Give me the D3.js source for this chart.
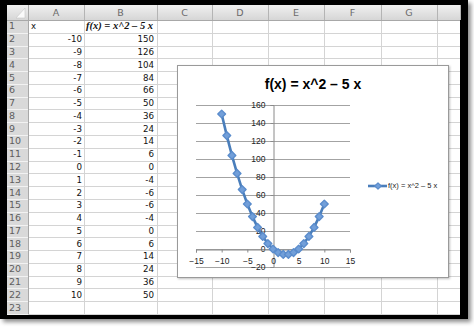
<!DOCTYPE html>
<html>
<head>
<meta charset="utf-8">
<script src="https://cdn.jsdelivr.net/npm/d3@7"></script>
<style>
  html, body { margin: 0; padding: 0; background: #fff; }
  svg { display: block; }
</style>
</head>
<body>
<svg id="sheet" width="474" height="329"></svg>
<script>
// ---- data ----
const xValues = [-10, -9, -8, -7, -6, -5, -4, -3, -2, -1, 0, 1, 2, 3, 4, 5, 6, 7, 8, 9, 10];
const yValues = [150, 126, 104, 84, 66, 50, 36, 24, 14, 6, 0, -4, -6, -6, -4, 0, 6, 14, 24, 36, 50];
const columnLetters = ["A", "B", "C", "D", "E", "F", "G", ""];
const rowNumbers = d3.range(1, 24);
const xHeader = "x";
const fHeader = "f(x) = x^2 \u2013 5 x";
const chartTitle = "f(x) = x^2 \u2013 5 x";
const seriesName = "f(x) = x^2 \u2013 5 x";
const xTicks = [-15, -10, -5, 0, 5, 10, 15];
const yTicks = [-20, 0, 20, 40, 60, 80, 100, 120, 140, 160];

// ---- layout ----
const svg = d3.select("#sheet");
const frame = { x: 0, y: 0, w: 468, h: 319 };
const inner = { x: 7, y: 5, r: 460, b: 314 };
const colEdges = [28, 84, 157, 212, 268, 324, 381, 437, 460];
const rowHeaderX = 7;
const headerTop = 5, headerBottom = 20;
const rowH = (inner.b - headerBottom) / rowNumbers.length;
const rowTop = i => headerBottom + i * rowH;

const defs = svg.append("defs");
const sh = defs.append("filter").attr("id", "shadow")
  .attr("x", "-5%").attr("y", "-5%").attr("width", "115%").attr("height", "115%");
sh.append("feDropShadow").attr("dx", 3).attr("dy", 3).attr("stdDeviation", 2.2)
  .attr("flood-color", "#000").attr("flood-opacity", 0.45);
const hdrGrad = defs.append("linearGradient").attr("id", "hdr").attr("x1", 0).attr("y1", 0).attr("x2", 0).attr("y2", 1);
hdrGrad.append("stop").attr("offset", "0%").attr("stop-color", "#f0f0f0");
hdrGrad.append("stop").attr("offset", "100%").attr("stop-color", "#d6d6d6");
const chartSh = defs.append("filter").attr("id", "chartShadow");
chartSh.append("feDropShadow").attr("dx", 1).attr("dy", 1).attr("stdDeviation", 0.8)
  .attr("flood-color", "#000").attr("flood-opacity", 0.25);

// black window frame with drop shadow
svg.append("rect").attr("x", frame.x).attr("y", frame.y).attr("width", frame.w).attr("height", frame.h)
  .attr("fill", "#050505").attr("filter", "url(#shadow)");
svg.append("rect").attr("x", inner.x).attr("y", inner.y)
  .attr("width", inner.r - inner.x).attr("height", inner.b - inner.y).attr("fill", "#fff");

// cell gridlines
const grid = svg.append("g").attr("stroke", "#d4d4d4").attr("stroke-width", 1);
rowNumbers.forEach((r, i) => {
  grid.append("line").attr("x1", colEdges[0]).attr("x2", inner.r)
    .attr("y1", Math.round(rowTop(i + 1)) + 0.5).attr("y2", Math.round(rowTop(i + 1)) + 0.5);
});
colEdges.slice(1, -1).forEach(cx => {
  grid.append("line").attr("x1", cx + 0.5).attr("x2", cx + 0.5).attr("y1", headerBottom).attr("y2", inner.b);
});

// column header strip
svg.append("rect").attr("x", inner.x).attr("y", headerTop).attr("width", inner.r - inner.x)
  .attr("height", headerBottom - headerTop).attr("fill", "url(#hdr)");
svg.append("line").attr("x1", inner.x).attr("x2", inner.r).attr("y1", headerBottom + 0.5).attr("y2", headerBottom + 0.5)
  .attr("stroke", "#a8a8a8");
columnLetters.forEach((c, i) => {
  const x0 = colEdges[i], x1 = colEdges[i + 1];
  svg.append("line").attr("x1", x1 + 0.5).attr("x2", x1 + 0.5).attr("y1", headerTop).attr("y2", headerBottom)
    .attr("stroke", "#b4b4b4");
  svg.append("text").attr("x", (x0 + x1) / 2).attr("y", (headerTop + headerBottom) / 2 + 0.5)
    .attr("text-anchor", "middle").attr("dominant-baseline", "middle")
    .attr("font-family", "DejaVu Sans, Verdana, sans-serif").attr("font-size", 9.5)
    .attr("fill", "#6a6a6a").text(c);
});
// select-all corner
svg.append("path").attr("d", `M${colEdges[0] - 3},${headerTop + 3} L${colEdges[0] - 3},${headerBottom - 2} L${colEdges[0] - 12},${headerBottom - 2} Z`)
  .attr("fill", "#fafafa").attr("stroke", "#c8c8c8").attr("stroke-width", 0.6);

// row header column
svg.append("rect").attr("x", rowHeaderX).attr("y", headerBottom + 1).attr("width", colEdges[0] - rowHeaderX)
  .attr("height", inner.b - headerBottom - 1).attr("fill", "#d9d9d9");
svg.append("line").attr("x1", colEdges[0] + 0.5).attr("x2", colEdges[0] + 0.5).attr("y1", headerTop).attr("y2", inner.b)
  .attr("stroke", "#a8a8a8");
rowNumbers.forEach((r, i) => {
  svg.append("line").attr("x1", rowHeaderX).attr("x2", colEdges[0])
    .attr("y1", Math.round(rowTop(i + 1)) + 0.5).attr("y2", Math.round(rowTop(i + 1)) + 0.5)
    .attr("stroke", "#f2f2f2");
  svg.append("text").attr("x", 9).attr("y", rowTop(i) + rowH / 2 + 0.5)
    .attr("dominant-baseline", "middle")
    .attr("font-family", "DejaVu Sans, Verdana, sans-serif").attr("font-size", 9.5)
    .attr("fill", "#5e5e5e").text(r);
});

// cell contents
const cellFont = "DejaVu Sans, Verdana, sans-serif";
svg.append("text").attr("x", 31).attr("y", rowTop(0) + rowH / 2 + 0.5).attr("dominant-baseline", "middle")
  .attr("font-family", cellFont).attr("font-size", 8.5).attr("fill", "#111").text(xHeader);
svg.append("text").attr("x", 86).attr("y", rowTop(0) + rowH / 2 + 0.5).attr("dominant-baseline", "middle")
  .attr("font-family", "Liberation Serif, Times New Roman, serif").attr("font-weight", "bold")
  .attr("font-style", "italic").attr("font-size", 10.5).attr("fill", "#111").text(fHeader);
xValues.forEach((v, i) => {
  const cy = rowTop(i + 1) + rowH / 2 + 0.5;
  svg.append("text").attr("x", 82).attr("y", cy).attr("text-anchor", "end").attr("dominant-baseline", "middle")
    .attr("font-family", cellFont).attr("font-size", 8.7).attr("fill", "#111").text(v);
  svg.append("text").attr("x", 154).attr("y", cy).attr("text-anchor", "end").attr("dominant-baseline", "middle")
    .attr("font-family", cellFont).attr("font-size", 8.7).attr("fill", "#111").text(yValues[i]);
});

// ---- embedded chart ----
const box = { x: 177.5, y: 65.5, w: 271, h: 212 };
svg.append("rect").attr("x", box.x).attr("y", box.y).attr("width", box.w).attr("height", box.h)
  .attr("fill", "#fff").attr("stroke", "#9a9a9a").attr("stroke-width", 1).attr("filter", "url(#chartShadow)");

const chartFont = "Liberation Sans, Arial, sans-serif";
svg.append("text").attr("x", box.x + box.w / 2).attr("y", 85)
  .attr("text-anchor", "middle").attr("dominant-baseline", "middle")
  .attr("font-family", chartFont).attr("font-weight", "bold").attr("font-size", 14)
  .attr("fill", "#000").text(chartTitle);

const x = d3.scaleLinear().domain([-15, 15]).range([196, 350]);
const y = d3.scaleLinear().domain([-20, 160]).range([267, 105]);

// horizontal gridlines
svg.append("g").selectAll("line").data(yTicks).join("line")
  .attr("x1", x(-15)).attr("x2", x(15))
  .attr("y1", d => Math.round(y(d)) + 0.5).attr("y2", d => Math.round(y(d)) + 0.5)
  .attr("stroke", "#a3a3a3").attr("stroke-width", 1);

// vertical axis at x = 0
const yAxis = svg.append("g").attr("transform", `translate(${Math.round(x(0)) + 0.5},0)`)
  .call(d3.axisLeft(y).tickValues(yTicks).tickSize(3).tickFormat(d3.format("d")));
yAxis.select(".domain").attr("stroke", "#8a8a8a");
yAxis.selectAll(".tick line").attr("stroke", "#8a8a8a");
yAxis.selectAll(".tick text").attr("x", -8).attr("font-family", chartFont).attr("font-size", 8.5).attr("fill", "#222");

// horizontal axis at y = 0
const xAxis = svg.append("g").attr("transform", `translate(0,${Math.round(y(0)) + 0.5})`)
  .call(d3.axisBottom(x).tickValues(xTicks).tickSize(3).tickFormat(d3.format("d")));
xAxis.select(".domain").attr("stroke", "#8a8a8a");
xAxis.selectAll(".tick line").attr("stroke", "#8a8a8a");
xAxis.selectAll(".tick text").attr("y", 8).attr("font-family", chartFont).attr("font-size", 8.5).attr("fill", "#222");

// series line and markers (square markers turned 45 degrees)
const pts = xValues.map((v, i) => [v, yValues[i]]);
svg.append("path").datum(pts)
  .attr("d", d3.line().x(d => x(d[0])).y(d => y(d[1])))
  .attr("fill", "none").attr("stroke", "#4a7ebb").attr("stroke-width", 2.6).attr("stroke-linejoin", "round");
const marker = d3.symbol().type(d3.symbolSquare).size(30);
svg.append("g").selectAll("path").data(pts).join("path")
  .attr("transform", d => `translate(${x(d[0])},${y(d[1])}) rotate(45)`)
  .attr("d", marker).attr("fill", "#729fd9").attr("stroke", "#5a8ccc").attr("stroke-width", 1.4)
  .attr("stroke-linejoin", "round");

// legend
const legY = 186;
svg.append("line").attr("x1", 368).attr("x2", 387).attr("y1", legY).attr("y2", legY)
  .attr("stroke", "#4a7ebb").attr("stroke-width", 2.6);
svg.append("path").attr("transform", `translate(378,${legY}) rotate(45)`).attr("d", d3.symbol().type(d3.symbolSquare).size(20))
  .attr("fill", "#729fd9").attr("stroke", "#5a8ccc").attr("stroke-width", 1.2).attr("stroke-linejoin", "round");
svg.append("text").attr("x", 388).attr("y", legY + 0.5).attr("dominant-baseline", "middle")
  .attr("font-family", chartFont).attr("font-size", 7.5).attr("fill", "#222").text(seriesName);
</script>
</body>
</html>
